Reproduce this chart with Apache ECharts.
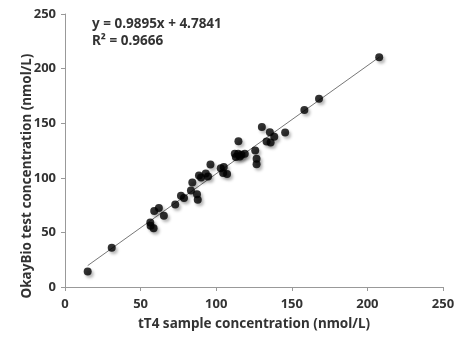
<!DOCTYPE html>
<html>
<head>
<meta charset="utf-8">
<script src="https://cdn.jsdelivr.net/npm/echarts@6/dist/echarts.min.js"></script>
<style>html,body{margin:0;padding:0;background:#fff}#c{width:459px;height:338px}</style>
</head>
<body>
<div id="c"></div>
<script>
var sampleX = [15.0, 30.9, 207.8, 168.0, 158.3, 130.2, 135.5, 145.6, 138.4, 133.3, 136.0, 114.7, 125.8, 126.7, 126.7, 112.3, 114.5, 116.7, 118.9, 113.0, 115.6, 96.2, 103.0, 105.0, 104.6, 107.2, 93.1, 94.6, 88.6, 90.0, 84.2, 83.3, 87.3, 87.8, 76.7, 78.7, 72.9, 65.4, 62.1, 59.0, 56.4, 56.6, 58.6];
var testY   = [14.3, 36.0, 210.4, 172.3, 162.2, 146.6, 141.8, 141.5, 137.5, 133.2, 132.3, 133.5, 125.0, 117.4, 112.5, 122.0, 122.0, 121.0, 122.0, 119.0, 119.5, 112.2, 108.8, 109.8, 104.3, 103.4, 104.0, 101.2, 102.0, 100.3, 95.7, 88.4, 85.0, 79.9, 83.5, 81.4, 75.6, 65.2, 72.3, 69.5, 59.1, 56.1, 53.7];
var trendX = [15, 208];
var trendY = [19.6, 210.6];
var xTicks = [0, 50, 100, 150, 200, 250];
var yTicks = [0, 50, 100, 150, 200, 250];
var equationText = "y = 0.9895x + 4.7841";
var r2Text = "R\u00B2 = 0.9666";
var xTitle = "tT4 sample concentration (nmol/L)";
var yTitle = "OkayBio test concentration (nmol/L)";

var points = sampleX.map(function (x, i) { return [x, testY[i]]; });
var trend = trendX.map(function (x, i) { return [x, trendY[i]]; });
var FONT = '"Noto Sans"';
var chart = echarts.init(document.getElementById('c'), null, {renderer: 'canvas'});
chart.setOption({
  animation: false,
  backgroundColor: '#fff',
  grid: {left: 65, right: 16, top: 14, bottom: 51, containLabel: false},
  xAxis: {
    type: 'value', min: xTicks[0], max: xTicks[xTicks.length - 1], interval: xTicks[1] - xTicks[0],
    name: xTitle, nameLocation: 'middle', nameGap: 30,
    nameTextStyle: {fontFamily: FONT, fontWeight: 'bold', fontSize: 13.5, color: '#333'},
    axisLine: {lineStyle: {color: '#999', width: 1}},
    axisTick: {show: true, length: 4, lineStyle: {color: '#999'}},
    axisLabel: {fontFamily: FONT, fontWeight: 'bold', fontSize: 13, color: '#333', margin: 11},
    splitLine: {show: false}
  },
  yAxis: {
    type: 'value', min: yTicks[0], max: yTicks[yTicks.length - 1], interval: yTicks[1] - yTicks[0],
    axisLine: {show: true, lineStyle: {color: '#999', width: 1}},
    axisTick: {show: true, length: 4, lineStyle: {color: '#999'}},
    axisLabel: {fontFamily: FONT, fontWeight: 'bold', fontSize: 13, color: '#333', margin: 9},
    splitLine: {show: false}
  },
  graphic: [
    {type: 'text', left: 92, top: 17, style: {text: equationText, font: 'bold 13.5px ' + FONT, fill: '#333'}},
    {type: 'text', left: 92, top: 34, style: {text: r2Text, font: 'bold 13.5px ' + FONT, fill: '#333'}},
    {type: 'text', x: 27, y: 176, rotation: Math.PI / 2,
     style: {text: yTitle, font: 'bold 13.5px ' + FONT, fill: '#333', align: 'center', verticalAlign: 'middle'}}
  ],
  series: [
    {
      type: 'line', data: trend, showSymbol: false, symbol: 'none',
      lineStyle: {color: '#777', width: 1}, z: 1
    },
    {
      type: 'scatter', data: points, symbol: 'circle', symbolSize: 8,
      itemStyle: {color: '#000', shadowColor: 'rgba(0,0,0,0.35)', shadowBlur: 3, shadowOffsetX: 2, shadowOffsetY: 2.5},
      z: 2
    }
  ]
});
</script>
</body>
</html>
